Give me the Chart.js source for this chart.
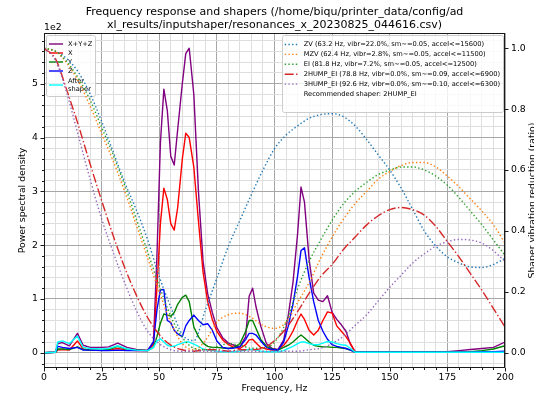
<!DOCTYPE html>
<html>
<head>
<meta charset="utf-8">
<title>Frequency response and shapers</title>
<script src="https://cdn.jsdelivr.net/npm/chart.js@4.4.1/dist/chart.umd.min.js"></script>
<style>
    html, body { margin: 0; padding: 0; background: #ffffff; overflow: hidden; }
    #wrap { width: 534px; height: 396px; }
</style>
</head>
<body>
<div id="wrap"><canvas id="psdChart" width="534" height="396"></canvas></div>
<script>
// Frequency bins (Hz) of the measured power spectral density
const psdFreqs = [0, 5, 6, 8, 11, 14.5, 17, 20, 25, 28,
    32, 36, 40, 45, 47.5, 49, 50.5, 52, 53.5, 55,
    56.5, 58, 60, 61.5, 63, 65, 67, 69, 71, 73,
    75, 77.5, 80, 82.5, 85, 87.5, 89, 90.5, 92, 94,
    96.5, 99, 101.5, 104, 106, 108, 110, 111.5, 113, 115,
    117, 119, 121, 123, 125, 127, 129, 131, 133, 135,
    140, 150, 160, 170, 175, 180, 185, 190, 195, 200];

// PSD per axis
const psdXYZ = [0, 1, 17, 19, 13, 36, 14, 10, 10, 11,
    18, 10, 6, 5, 20, 180, 390, 490, 450, 365,
    349, 415, 500, 556, 566, 480, 300, 170, 110, 75,
    47, 28, 18, 14, 11, 30, 105, 120, 85, 50,
    17, 8, 6, 24, 70, 130, 220, 308, 280, 174,
    111, 98, 95, 106, 75, 62, 52, 40, 15, 2,
    2, 2, 2, 2, 2, 4, 6, 8, 10, 20];
const psdX = [0, 1, 5, 6, 5, 22, 7, 5, 5, 5,
    8, 5, 4, 4, 15, 120, 240, 306, 285, 240,
    228, 270, 360, 408, 400, 345, 245, 150, 95, 62,
    40, 24, 15, 10, 8, 15, 24, 25, 18, 10,
    7, 5, 6, 14, 25, 40, 60, 72, 62, 42,
    33, 42, 60, 76, 74, 50, 40, 30, 17, 1,
    1, 1, 1, 1, 1, 1, 2, 2, 2, 2];
const psdY = [0, 1, 7, 7, 6, 11, 6, 5, 5, 6,
    12, 6, 5, 4, 10, 30, 55, 72, 70, 68,
    75, 90, 103, 107, 95, 48, 30, 18, 12, 10,
    10, 9, 8, 10, 17, 40, 60, 60, 45, 25,
    12, 7, 5, 10, 14, 20, 28, 33, 28, 20,
    14, 12, 11, 11, 10, 10, 9, 8, 5, 1,
    1, 1, 1, 1, 1, 1, 2, 4, 7, 13];
const psdZ = [0, 1, 12, 10, 8, 10, 5, 5, 4, 4,
    5, 4, 4, 4, 20, 80, 117, 117, 60, 56,
    42, 35, 30, 50, 60, 70, 60, 52, 54, 42,
    22, 10, 8, 9, 11, 25, 36, 36, 33, 22,
    10, 6, 5, 20, 50, 90, 142, 190, 195, 140,
    95, 60, 40, 25, 15, 12, 10, 8, 5, 1,
    1, 1, 1, 1, 1, 1, 1, 2, 2, 3];
const psdShaped = [0, 1, 20, 22, 17, 31, 10, 8, 7, 8,
    13, 7, 5, 4, 10, 22, 26, 20, 14, 12,
    12, 15, 18, 20, 20, 16, 12, 7, 5, 4,
    3, 2, 2, 2, 3, 5, 6, 6, 5, 3,
    2, 2, 2, 4, 8, 12, 17, 20, 20, 17,
    15, 15, 18, 21, 20, 17, 15, 14, 8, 1,
    1, 1, 1, 1, 1, 1, 1, 1, 1, 1];

// Shaper vibration reduction, every 5 Hz
const shaperFreqs = [0, 5, 10, 15, 20, 25, 30, 35, 40, 45,
    50, 55, 60, 65, 70, 75, 80, 85, 90, 95,
    100, 105, 110, 115, 120, 125, 130, 135, 140, 145,
    150, 155, 160, 165, 170, 175, 180, 185, 190, 195, 200];
const respZV = [1.0, 0.99, 0.965, 0.92, 0.85, 0.76, 0.66, 0.56, 0.47, 0.37,
    0.25, 0.15, 0.06, 0.04, 0.14, 0.245, 0.35, 0.435, 0.52, 0.6,
    0.67, 0.715, 0.745, 0.77, 0.782, 0.785, 0.775, 0.745, 0.7, 0.65,
    0.6, 0.54, 0.47, 0.4, 0.35, 0.315, 0.295, 0.282, 0.28, 0.29, 0.31];
const respMZV = [1.0, 0.99, 0.95, 0.89, 0.81, 0.72, 0.63, 0.53, 0.42, 0.31,
    0.2, 0.1, 0.03, 0.01, 0.04, 0.1, 0.125, 0.13, 0.115, 0.09,
    0.08, 0.1, 0.165, 0.23, 0.31, 0.38, 0.44, 0.49, 0.53, 0.57,
    0.595, 0.615, 0.625, 0.625, 0.61, 0.58, 0.545, 0.505, 0.465, 0.42, 0.36];
const respEI = [1.0, 0.99, 0.955, 0.9, 0.83, 0.74, 0.65, 0.55, 0.44, 0.33,
    0.22, 0.12, 0.05, 0.015, 0.01, 0.02, 0.03, 0.025, 0.015, 0.015,
    0.035, 0.1, 0.21, 0.3, 0.37, 0.435, 0.49, 0.53, 0.56, 0.585,
    0.6, 0.61, 0.61, 0.6, 0.58, 0.55, 0.51, 0.465, 0.42, 0.37, 0.32];
const resp2HumpEI = [1.0, 0.965, 0.86, 0.745, 0.62, 0.5, 0.385, 0.28, 0.19, 0.115,
    0.06, 0.025, 0.01, 0.005, 0.01, 0.01, 0.005, 0.01, 0.01, 0.015,
    0.04, 0.08, 0.135, 0.195, 0.25, 0.29, 0.34, 0.38, 0.42, 0.45,
    0.47, 0.477, 0.47, 0.452, 0.415, 0.365, 0.315, 0.26, 0.205, 0.145, 0.085];
const resp3HumpEI = [1.0, 0.96, 0.85, 0.71, 0.57, 0.44, 0.33, 0.23, 0.14, 0.07,
    0.03, 0.01, 0.005, 0.005, 0.005, 0.005, 0.005, 0.005, 0.005, 0.005,
    0.005, 0.005, 0.005, 0.01, 0.015, 0.03, 0.055, 0.09, 0.125, 0.17,
    0.215, 0.255, 0.295, 0.325, 0.35, 0.365, 0.372, 0.37, 0.36, 0.335, 0.3];

const shaperNames = ['ZV', 'MZV', 'EI', '2HUMP_EI', '3HUMP_EI'];
const shaperHz = [63.2, 62.4, 81.8, 78.8, 92.6];
const shaperVibr = [22.0, 2.8, 7.2, 0.0, 0.0];
const shaperSmoothing = [0.05, 0.05, 0.05, 0.09, 0.10];
const shaperAccel = [15600, 11500, 12500, 6900, 6300];
const recommendedShaper = '2HUMP_EI';

const titleLines = [
    'Frequency response and shapers (/home/biqu/printer_data/config/ad',
    'xl_results/inputshaper/resonances_x_20230825_044616.csv)'
];

const FONT = "'DejaVu Sans', sans-serif";
const LEGEND_FONT = `6.7px ${FONT}`;
Chart.defaults.font.family = FONT;
Chart.defaults.font.size = 9.3;
Chart.defaults.color = '#000000';

const GRID_MAJOR = '#a6a6a6';
const GRID_MINOR = '#dedede';

function points(xs, ys) {
    return xs.map((x, i) => ({ x: x, y: ys[i] }));
}

const psdSeries = [
    { label: 'X+Y+Z', values: psdXYZ, color: 'purple' },
    { label: 'X', values: psdX, color: 'red' },
    { label: 'Y', values: psdY, color: 'green' },
    { label: 'Z', values: psdZ, color: 'blue' },
    { label: 'After\nshaper', values: psdShaped, color: 'cyan' }
];
const shaperResp = [respZV, respMZV, respEI, resp2HumpEI, resp3HumpEI];
const shaperColors = ['#1f77b4', '#ff7f0e', '#2ca02c', '#d62728', '#9467bd'];

const datasets = [];
psdSeries.forEach(s => {
    datasets.push({
        label: s.label,
        data: points(psdFreqs, s.values),
        yAxisID: 'y',
        borderColor: s.color,
        borderWidth: 1.4,
        borderJoinStyle: 'round',
        tension: 0
    });
});
shaperNames.forEach((name, i) => {
    const best = name === recommendedShaper;
    datasets.push({
        label: `${name} (${shaperHz[i].toFixed(1)} Hz, vibr=${shaperVibr[i].toFixed(1)}%, ` +
            `sm~=${shaperSmoothing[i].toFixed(2)}, accel<=${shaperAccel[i]})`,
        data: points(shaperFreqs, shaperResp[i]),
        yAxisID: 'y2',
        borderColor: shaperColors[i],
        borderWidth: 1.4,
        borderDash: best ? [9, 2.4, 1.4, 2.4] : [1.4, 2.3],
        cubicInterpolationMode: 'monotone'
    });
});
// draw in the order the series were added (later ones on top)
datasets.forEach((d, i) => { d.order = 100 - i; });

function range(from, to, step) {
    const out = [];
    for (let v = from; v <= to + 1e-9; v += step) out.push(Math.round(v * 1000) / 1000);
    return out;
}

function drawLegendBox(ctx, x, y, w, h) {
    ctx.save();
    ctx.beginPath();
    ctx.roundRect(Math.round(x) + 0.5, Math.round(y) + 0.5, Math.round(w), Math.round(h), 2);
    ctx.fillStyle = 'rgba(255,255,255,0.8)';
    ctx.fill();
    ctx.strokeStyle = '#cccccc';
    ctx.lineWidth = 1;
    ctx.stroke();
    ctx.restore();
}

function drawHandle(ctx, ds, x0, x1, y) {
    ctx.save();
    ctx.strokeStyle = ds.borderColor;
    ctx.lineWidth = ds.borderWidth;
    ctx.setLineDash(ds.borderDash || []);
    ctx.beginPath();
    ctx.moveTo(x0, y);
    ctx.lineTo(x1, y);
    ctx.stroke();
    ctx.restore();
}

// PSD legend, upper left, sits under the shaper curves
function drawPsdLegend(chart) {
    const ctx = chart.ctx;
    const a = chart.chartArea;
    const sets = chart.data.datasets.filter(d => d.yAxisID === 'y');
    ctx.save();
    ctx.font = LEGEND_FONT;
    const textW = Math.max(...sets.flatMap(d => d.label.split('\n').map(s => ctx.measureText(s).width)));
    const bx = a.left + 2, by = a.top + 2;
    drawLegendBox(ctx, bx, by, 25 + textW, 61);
    ctx.fillStyle = '#000';
    ctx.textBaseline = 'middle';
    let y = by + 9;
    sets.forEach(d => {
        const lines = d.label.split('\n');
        if (lines.length === 1) {
            drawHandle(ctx, d, bx + 3, bx + 17, y);
            ctx.fillText(lines[0], bx + 22, y);
            y += 9;
        } else {
            drawHandle(ctx, d, bx + 3, bx + 17, y + 5);
            lines.forEach((s, k) => ctx.fillText(s, bx + 22, y + 1.5 + k * 7.8));
        }
    });
    ctx.restore();
}

// shaper legend, upper right
function drawShaperLegend(chart) {
    const ctx = chart.ctx;
    const a = chart.chartArea;
    const sets = chart.data.datasets.filter(d => d.yAxisID === 'y2');
    const extra = 'Recommended shaper: ' + recommendedShaper;
    ctx.save();
    ctx.font = LEGEND_FONT;
    const textW = Math.max(ctx.measureText(extra).width, ...sets.map(d => ctx.measureText(d.label).width));
    const w = 25 + textW;
    const bx = a.right - 2 - w, by = a.top + 2;
    drawLegendBox(ctx, bx, by, w, 77);
    ctx.fillStyle = '#000';
    ctx.textBaseline = 'middle';
    let y = by + 9.5;
    sets.forEach(d => {
        drawHandle(ctx, d, bx + 3, bx + 17, y);
        ctx.fillText(d.label, bx + 22, y);
        y += 9.9;
    });
    ctx.fillText(extra, bx + 22, y);
    ctx.restore();
}

const decorations = {
    id: 'decorations',
    afterDatasetDraw(chart, args) {
        if (args.index === psdSeries.length - 1) drawPsdLegend(chart);
    },
    afterDraw(chart) {
        const ctx = chart.ctx;
        const a = chart.chartArea;
        const sx = chart.scales.x, sy = chart.scales.y, sy2 = chart.scales.y2;
        ctx.save();

        // axes frame
        ctx.strokeStyle = '#1a1a1a';
        ctx.lineWidth = 1;
        ctx.strokeRect(Math.round(a.left) + 0.5, Math.round(a.top) + 0.5,
            Math.round(a.right - a.left) - 1, Math.round(a.bottom - a.top) - 1);

        // tick marks, long for majors and short for minors
        ctx.beginPath();
        sx.ticks.forEach(t => {
            const px = Math.round(sx.getPixelForValue(t.value)) + 0.5;
            const len = t.value % 25 === 0 ? 3.5 : 2;
            ctx.moveTo(px, a.bottom);
            ctx.lineTo(px, a.bottom + len);
        });
        sy.ticks.forEach(t => {
            const py = Math.round(sy.getPixelForValue(t.value)) + 0.5;
            const len = t.value % 100 === 0 ? 3.5 : 2;
            ctx.moveTo(a.left, py);
            ctx.lineTo(a.left - len, py);
        });
        sy2.ticks.forEach(t => {
            const py = Math.round(sy2.getPixelForValue(t.value)) + 0.5;
            ctx.moveTo(a.right, py);
            ctx.lineTo(a.right + 3.5, py);
        });
        ctx.stroke();

        ctx.fillStyle = '#000';
        const cx = (a.left + a.right) / 2;
        const cy = (a.top + a.bottom) / 2;

        // title
        ctx.font = `11px ${FONT}`;
        ctx.textAlign = 'center';
        ctx.textBaseline = 'middle';
        titleLines.forEach((s, i) => ctx.fillText(s, cx, 12.5 + i * 13));

        // axis labels and offset text
        ctx.font = `9.3px ${FONT}`;
        ctx.fillText('Frequency, Hz', cx, 389);
        ctx.textAlign = 'left';
        ctx.fillText('1e2', a.left, 28);

        ctx.save();
        ctx.translate(25, cy);
        ctx.rotate(-Math.PI / 2);
        ctx.textAlign = 'center';
        ctx.textBaseline = 'alphabetic';
        ctx.fillText('Power spectral density', 0, 0);
        ctx.restore();

        ctx.save();
        ctx.translate(528, cy);
        ctx.rotate(-Math.PI / 2);
        ctx.textAlign = 'center';
        ctx.textBaseline = 'top';
        ctx.fillText('Shaper vibration reduction (ratio)', 0, 0);
        ctx.restore();

        ctx.restore();
        drawShaperLegend(chart);
    }
};

const ctx = document.getElementById('psdChart').getContext('2d');
new Chart(ctx, {
    type: 'line',
    data: { datasets: datasets },
    options: {
        responsive: false,
        animation: false,
        devicePixelRatio: 1,
        layout: { padding: { top: 33, left: 0, right: 0, bottom: 0 } },
        elements: { point: { radius: 0 } },
        plugins: {
            legend: { display: false },
            title: { display: false },
            tooltip: { enabled: false }
        },
        scales: {
            x: {
                type: 'linear',
                min: 0,
                max: 200,
                afterBuildTicks: scale => { scale.ticks = range(0, 200, 5).map(v => ({ value: v })); },
                afterFit: scale => { scale.height = 28; },
                border: { display: false },
                grid: {
                    drawTicks: false,
                    color: c => (c.tick.value % 25 === 0 ? GRID_MAJOR : GRID_MINOR)
                },
                ticks: {
                    autoSkip: false,
                    maxRotation: 0,
                    padding: 4,
                    callback: v => (v % 25 === 0 ? String(v) : '')
                }
            },
            y: {
                position: 'left',
                min: -28.3,
                max: 594.3,
                afterBuildTicks: scale => { scale.ticks = range(-20, 580, 20).map(v => ({ value: v })); },
                afterFit: scale => { scale.width = 44; },
                border: { display: false },
                grid: {
                    drawTicks: false,
                    color: c => (c.tick.value % 100 === 0 ? GRID_MAJOR : GRID_MINOR)
                },
                ticks: {
                    autoSkip: false,
                    padding: 6,
                    callback: v => (v % 100 === 0 ? String(v / 100) : '')
                }
            },
            y2: {
                position: 'right',
                min: -0.05,
                max: 1.05,
                afterBuildTicks: scale => { scale.ticks = range(0, 1, 0.2).map(v => ({ value: v })); },
                afterFit: scale => { scale.width = 29; },
                border: { display: false },
                grid: { drawOnChartArea: false, drawTicks: false },
                ticks: {
                    autoSkip: false,
                    padding: 6,
                    callback: v => v.toFixed(1)
                }
            }
        }
    },
    plugins: [decorations]
});
</script>
</body>
</html>
